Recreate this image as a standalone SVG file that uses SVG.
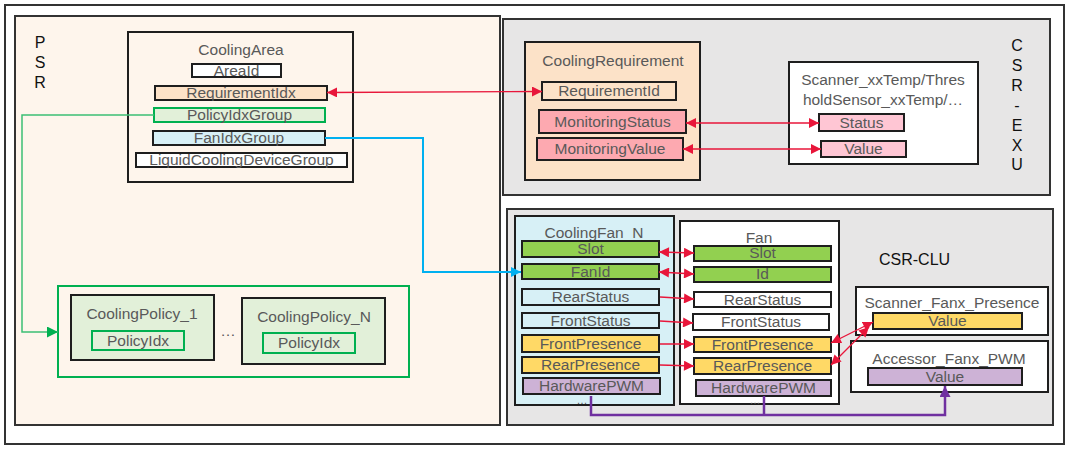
<svg xmlns="http://www.w3.org/2000/svg" width="1071" height="451" viewBox="0 0 1071 451">
<style>
text{font-family:"Liberation Sans",Arial,sans-serif;font-size:15.5px;fill:#595959;text-anchor:middle}
.big{font-size:16px;fill:#111}
.dots{font-size:11px}
.box{stroke:#1e1e1e;stroke-width:2}
.frame{stroke:#333;stroke-width:2}
.red{stroke:#E8163A;stroke-width:1.3;fill:none}
.peach{fill:#FCE2C8}
.pink{fill:#FDA9B0}
.lpink{fill:#FFC6D4}
.lgreen{fill:#E2F0D9}
.lblue{fill:#D7F0F6}
.grn{fill:#92D050}
.yel{fill:#FFD966}
.pur{fill:#CDB2D6}
.wht{fill:#fff}
</style>
<defs>
<marker id="ar" viewBox="0 0 10 10" refX="10" refY="5" markerWidth="11" markerHeight="10" markerUnits="userSpaceOnUse" orient="auto-start-reverse"><path d="M0,0L10,5L0,10z" fill="#E8163A"/></marker>
<marker id="ab" viewBox="0 0 10 10" refX="10" refY="5" markerWidth="11" markerHeight="10" markerUnits="userSpaceOnUse" orient="auto"><path d="M0,0L10,5L0,10z" fill="#00B0F0"/></marker>
<marker id="ag" viewBox="0 0 10 10" refX="10" refY="5" markerWidth="12" markerHeight="11" markerUnits="userSpaceOnUse" orient="auto"><path d="M0,0L10,5L0,10z" fill="#00B050"/></marker>
<marker id="ap" viewBox="0 0 10 10" refX="10" refY="5" markerWidth="11" markerHeight="11" markerUnits="userSpaceOnUse" orient="auto"><path d="M0,0L10,5L0,10z" fill="#7030A0"/></marker>
</defs>
<rect x="5" y="5" width="1059" height="439" fill="#fff" class="frame"/>

<g id="psr">
<rect x="15" y="16" width="485" height="409" fill="#FEF5EC" class="frame"/>
<text class="big" x="40" y="48">P</text>
<text class="big" x="40" y="68">S</text>
<text class="big" x="40" y="88">R</text>
</g>
<g id="csr-exu">
<rect x="503" y="19" width="547" height="176" fill="#E7E6E6" class="frame"/>
<text class="big" x="1017" y="51">C</text>
<text class="big" x="1017" y="71">S</text>
<text class="big" x="1017" y="91">R</text>
<text class="big" x="1017" y="111">-</text>
<text class="big" x="1017" y="131">E</text>
<text class="big" x="1017" y="151">X</text>
<text class="big" x="1017" y="170">U</text>
</g>
<g id="csr-clu">
<rect x="507" y="209" width="546" height="216" fill="#E7E6E6" class="frame"/>
<text class="big" x="879" y="265" style="text-anchor:start">CSR-CLU</text>
</g>

<g id="cooling-area">
<rect x="128" y="32" width="225" height="150" fill="none" class="box"/>
<text x="241" y="55">CoolingArea</text>
<rect x="192" y="64" width="89" height="13" class="box wht"/>
<text x="236.5" y="75.5">AreaId</text>
<rect x="155" y="86" width="172" height="14" class="box peach"/>
<text x="241" y="98">RequirementIdx</text>
<rect x="154" y="108" width="171" height="14" class="lgreen" stroke="#00B050" stroke-width="2"/>
<text x="239.5" y="120">PolicyIdxGroup</text>
<rect x="153" y="131" width="172" height="14" class="box lblue"/>
<text x="239" y="143">FanIdxGroup</text>
<rect x="136" y="153" width="211" height="14" class="box wht"/>
<text x="241.5" y="165">LiquidCoolingDeviceGroup</text>
</g>

<g id="cooling-policies">
<rect x="58" y="286" width="351" height="91" fill="none" stroke="#00B050" stroke-width="2"/>
<g id="cooling-policy-1">
<rect x="71" y="295" width="143" height="65" class="box lgreen"/>
<text x="142" y="319">CoolingPolicy_1</text>
<rect x="92" y="331" width="92" height="19" class="lgreen" stroke="#00B050" stroke-width="2"/>
<text x="138" y="346">PolicyIdx</text>
</g>
<text x="228" y="336">…</text>
<g id="cooling-policy-n">
<rect x="242" y="298" width="143" height="66" class="box lgreen"/>
<text x="314" y="322">CoolingPolicy_N</text>
<rect x="263" y="333" width="92" height="20" class="lgreen" stroke="#00B050" stroke-width="2"/>
<text x="309" y="348">PolicyIdx</text>
</g>
</g>

<g id="cooling-requirement">
<rect x="525" y="42" width="175" height="138" class="box peach"/>
<text x="613" y="66">CoolingRequirement</text>
<rect x="542" y="82" width="134" height="18" class="box peach"/>
<text x="609" y="96">RequirementId</text>
<rect x="539" y="110" width="147" height="23" class="box pink"/>
<text x="612.5" y="127">MonitoringStatus</text>
<rect x="537" y="138" width="146" height="22" class="box pink"/>
<text x="610" y="154">MonitoringValue</text>
</g>

<g id="temp-sensor">
<rect x="789" y="62" width="189" height="102" class="box wht"/>
<text x="883" y="85">Scanner_xxTemp/Thres</text>
<text x="883" y="105">holdSensor_xxTemp/…</text>
<rect x="819" y="114" width="85" height="17" class="box lpink"/>
<text x="861.5" y="128">Status</text>
<rect x="821" y="141" width="85" height="16" class="box lpink"/>
<text x="863.5" y="154">Value</text>
</g>

<g id="cooling-fan-n">
<rect x="515" y="216" width="159" height="189" class="box lblue"/>
<text x="594" y="238">CoolingFan_N</text>
<rect x="522" y="241" width="137" height="16" class="box grn"/>
<text x="590.5" y="254">Slot</text>
<rect x="522" y="264" width="137" height="15" class="box grn"/>
<text x="590.5" y="276.5">FanId</text>
<rect x="522" y="289" width="137" height="16" class="box lblue"/>
<text x="590.5" y="302">RearStatus</text>
<rect x="522" y="313" width="137" height="15" class="box lblue"/>
<text x="590.5" y="325.5">FrontStatus</text>
<rect x="522" y="335" width="137" height="17" class="box yel"/>
<text x="590.5" y="348.5">FrontPresence</text>
<rect x="522" y="357" width="137" height="16" class="box yel"/>
<text x="590.5" y="370">RearPresence</text>
<rect x="523" y="378" width="137" height="16" class="box pur"/>
<text x="591.5" y="391">HardwarePWM</text>
<text x="582" y="404" class="dots">…</text>
</g>

<g id="fan">
<rect x="680" y="221" width="159" height="183" class="box wht"/>
<text x="759" y="243">Fan</text>
<rect x="694" y="246" width="137" height="15" class="box grn"/>
<text x="762.5" y="258">Slot</text>
<rect x="694" y="267" width="137" height="15" class="box grn"/>
<text x="762.5" y="279">Id</text>
<rect x="694" y="292" width="137" height="15" class="box wht"/>
<text x="762.5" y="304.5">RearStatus</text>
<rect x="693" y="314" width="136" height="16" class="box wht"/>
<text x="761" y="327">FrontStatus</text>
<rect x="694" y="337" width="137" height="15" class="box yel"/>
<text x="762.5" y="349.5">FrontPresence</text>
<rect x="694" y="358" width="137" height="16" class="box yel"/>
<text x="762.5" y="371">RearPresence</text>
<rect x="696" y="380" width="135" height="16" class="box pur"/>
<text x="763.5" y="393">HardwarePWM</text>
<text x="755" y="404" class="dots">…</text>
</g>

<g id="scanner-fanx-presence">
<rect x="856" y="287" width="192" height="48" class="box wht"/>
<text x="952" y="308">Scanner_Fanx_Presence</text>
<rect x="873" y="313" width="149" height="16" class="box yel"/>
<text x="947.5" y="326">Value</text>
</g>

<g id="accessor-fanx-pwm">
<rect x="851" y="341" width="197" height="51" class="box wht"/>
<text x="949" y="364">Accessor_Fanx_PWM</text>
<rect x="868" y="368" width="154" height="17" class="box pur"/>
<text x="945" y="381.5">Value</text>
</g>

<g id="connectors">
<path d="M327,92.5L542,91.5" class="red" marker-start="url(#ar)" marker-end="url(#ar)"/>
<path d="M686,123L819,123" class="red" marker-start="url(#ar)" marker-end="url(#ar)"/>
<path d="M683,149L821,149" class="red" marker-start="url(#ar)" marker-end="url(#ar)"/>
<path d="M659,252L694,253" class="red" marker-start="url(#ar)" marker-end="url(#ar)"/>
<path d="M659,272L694,274" class="red" marker-start="url(#ar)" marker-end="url(#ar)"/>
<path d="M660,297L694,299" class="red" marker-end="url(#ar)"/>
<path d="M660,321L693,323" class="red" marker-end="url(#ar)"/>
<path d="M660,344L694,344" class="red" marker-end="url(#ar)"/>
<path d="M660,365L694,366" class="red" marker-end="url(#ar)"/>
<path d="M831,343L873,322" class="red" marker-start="url(#ar)" marker-end="url(#ar)"/>
<path d="M831,365L869,327" class="red" marker-start="url(#ar)" marker-end="url(#ar)"/>
<path d="M325,138H423V272H521" fill="none" stroke="#00B0F0" stroke-width="2" marker-end="url(#ab)"/>
<path d="M154,115H22V332H58" fill="none" stroke="#3CBF74" stroke-width="1.5" marker-end="url(#ag)"/>
<path d="M591,396V415H945V386" fill="none" stroke="#7030A0" stroke-width="2.5" marker-end="url(#ap)"/>
<path d="M764,396V415" fill="none" stroke="#7030A0" stroke-width="2.5"/>
</g>
</svg>
